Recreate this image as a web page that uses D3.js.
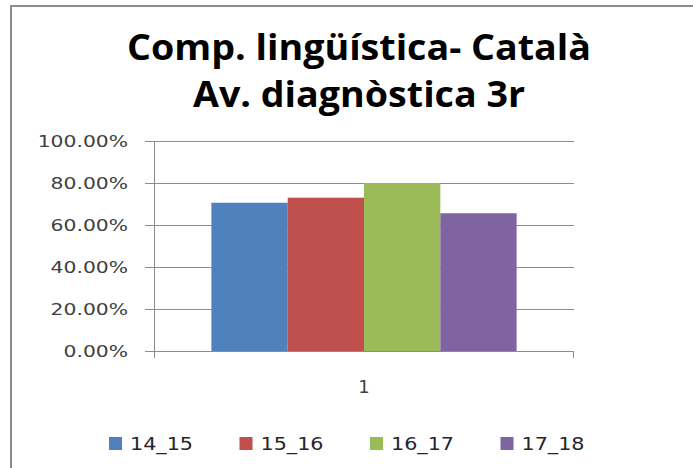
<!DOCTYPE html>
<html>
<head>
<meta charset="utf-8">
<script src="https://cdn.jsdelivr.net/npm/d3@7"></script>
<style>
  html, body { margin: 0; padding: 0; background: #fff; }
  svg { display: block; }
</style>
</head>
<body>
<div id="chart"></div>
<script>
// chart data
const categories = ['1'];
const seriesNames = ['14_15', '15_16', '16_17', '17_18'];
const seriesValues = [0.706, 0.730, 0.800, 0.656];
const seriesColors = ['#4F81BD', '#C0504D', '#9BBB59', '#8064A2'];
const yTicks = [0, 0.2, 0.4, 0.6, 0.8, 1.0];
const titleLines = ['Comp. lingüística- Català', 'Av. diagnòstica 3r'];

const width = 693;
const height = 468;
const plot = { left: 154, right: 574, top: 141, bottom: 351 };

const svg = d3.select('#chart').append('svg')
  .attr('width', width)
  .attr('height', height);

// stretch text horizontally (the source image is a bit wide)
function stretch(sel, k) {
  sel.each(function () {
    const w = this.getComputedTextLength();
    d3.select(this).attr('textLength', w * k).attr('lengthAdjust', 'spacingAndGlyphs');
  });
}

// outer chart border (right/bottom are cropped off in the source)
svg.append('rect')
  .attr('x', 11).attr('y', 6)
  .attr('width', width + 20).attr('height', height + 20)
  .attr('fill', '#fff')
  .attr('stroke', '#8c8c8c')
  .attr('stroke-width', 2);

// title
const title = svg.append('g')
  .attr('font-family', '"Open Sans", sans-serif')
  .attr('font-weight', 'bold')
  .attr('font-size', 35)
  .attr('fill', '#000')
  .attr('text-anchor', 'middle');
title.selectAll('text')
  .data(titleLines)
  .join('text')
  .attr('x', 359)
  .attr('y', (d, i) => 60 + i * 47)
  .text(d => d)
  .call(stretch, 1.075);

const x0 = d3.scaleBand()
  .domain(categories)
  .range([plot.left, plot.right])
  .paddingInner(0)
  .paddingOuter(0.188);

const x1 = d3.scaleBand()
  .domain(seriesNames)
  .range([0, x0.bandwidth()]);

const y = d3.scaleLinear()
  .domain([0, 1])
  .range([plot.bottom, plot.top]);

// gridlines + y axis
const yAxis = svg.append('g')
  .attr('transform', `translate(${plot.left},0)`)
  .call(d3.axisLeft(y).tickValues(yTicks).tickSize(9).tickFormat(d3.format('.2%')));
yAxis.select('.domain').remove();
yAxis.selectAll('.tick line').attr('stroke', '#8c8c8c');
yAxis.selectAll('.tick text')
  .attr('x', -26)
  .attr('dy', '0.36em')
  .attr('fill', '#404040')
  .attr('font-family', '"DejaVu Sans", Verdana, sans-serif')
  .attr('font-size', 16.5)
  .call(stretch, 1.23);

svg.append('g')
  .selectAll('line')
  .data(yTicks.filter(d => d > 0))
  .join('line')
  .attr('x1', plot.left).attr('x2', plot.right)
  .attr('y1', d => Math.round(y(d)) + 0.5).attr('y2', d => Math.round(y(d)) + 0.5)
  .attr('stroke', '#8c8c8c');

// vertical axis line
svg.append('line')
  .attr('x1', plot.left + 0.5).attr('x2', plot.left + 0.5)
  .attr('y1', plot.top).attr('y2', plot.bottom + 7)
  .attr('stroke', '#8c8c8c');

// bars
const groups = svg.append('g')
  .selectAll('g')
  .data(categories)
  .join('g')
  .attr('transform', d => `translate(${x0(d)},0)`);

groups.selectAll('rect')
  .data(() => seriesNames.map((s, i) => ({ s, v: seriesValues[i], c: seriesColors[i] })))
  .join('rect')
  .attr('x', d => x1(d.s))
  .attr('y', d => y(d.v))
  .attr('width', x1.bandwidth())
  .attr('height', d => y(0) - y(d.v))
  .attr('fill', d => d.c);

// x axis
const xAxis = svg.append('g')
  .attr('transform', `translate(0,${Math.round(plot.bottom) + 0.5})`)
  .call(d3.axisBottom(x0).tickSize(0).tickPadding(0));
xAxis.select('.domain').remove();
xAxis.selectAll('.tick text')
  .attr('y', 41)
  .attr('dy', 0)
  .attr('fill', '#404040')
  .attr('font-family', '"DejaVu Sans", Verdana, sans-serif')
  .attr('font-size', 18);

svg.append('line')
  .attr('x1', plot.left - 9).attr('x2', plot.right)
  .attr('y1', plot.bottom + 0.5).attr('y2', plot.bottom + 0.5)
  .attr('stroke', '#8c8c8c');
svg.selectAll('.xedge')
  .data([plot.right])
  .join('line')
  .attr('x1', d => d - 0.5).attr('x2', d => d - 0.5)
  .attr('y1', plot.bottom).attr('y2', plot.bottom + 7)
  .attr('stroke', '#8c8c8c');

// legend
const legend = svg.append('g')
  .selectAll('g')
  .data(seriesNames)
  .join('g')
  .attr('transform', (d, i) => `translate(${109 + i * 130.5},437)`);
legend.append('rect')
  .attr('width', 13).attr('height', 13)
  .attr('fill', (d, i) => seriesColors[i]);
legend.append('text')
  .attr('x', 21)
  .attr('y', 13)
  .attr('fill', '#262626')
  .attr('font-family', '"DejaVu Sans", Verdana, sans-serif')
  .attr('font-size', 18)
  .text(d => d)
  .call(stretch, 1.15);
</script>
</body>
</html>
